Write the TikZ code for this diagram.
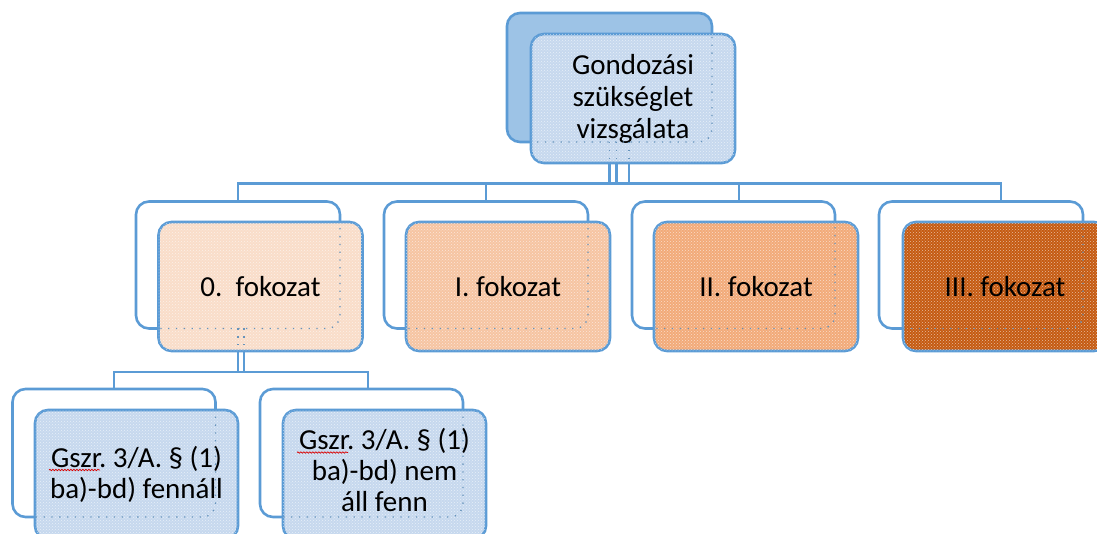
\documentclass[tikz,border=0pt]{standalone}
\usepackage{fontspec}
\setmainfont{Carlito}
\frenchspacing
\usetikzlibrary{patterns,decorations.pathmorphing,backgrounds,calc}
\definecolor{bc}{HTML}{5B9BD5}
\definecolor{topback}{HTML}{9DC3E6}
\definecolor{bluef}{HTML}{C6D8EE}
\definecolor{fzero}{HTML}{F9DDC9}
\definecolor{fone}{HTML}{F6C4A2}
\definecolor{ftwo}{HTML}{F2AA79}
\definecolor{fthree}{HTML}{C55A11}
\begin{document}
\begin{tikzpicture}[x=1pt,y=-1pt,
  boxbase/.style={rectangle, rounded corners=13pt, line width=2.6pt, draw=bc, inner sep=0pt, outer sep=0pt},
  backbox/.style={boxbase, fill=#1, minimum width=204pt, minimum height=127pt},
  frontbox/.style={boxbase, fill=#1, minimum width=204pt, minimum height=129pt,
    postaction={pattern=crosshatch dots, pattern color=white, fill opacity=0.6},
    align=center, text=black, font=\fontsize{29}{32}\selectfont},
  smallfont/.style={font=\fontsize{29}{31}\selectfont},
  conn/.style={draw=bc, line width=2.4pt},
  ghost/.style={draw=bc!70!gray, line width=1.3pt, dash pattern=on 1.3pt off 6.5pt},
  squig/.style={draw=red!85!black, line width=0.7pt, decorate, decoration={snake, amplitude=0.7pt, segment length=3pt}}
]
\useasboundingbox (0,0) rectangle (1097,534);
\clip (0,0) rectangle (1097,534);

% back boxes
\node[backbox=topback, minimum width=205pt, minimum height=129pt] (tb) at (609.5,77.5) {};
\node[backbox=white] (b0) at (238,265) {};
\node[backbox=white] (b1) at (486,265) {};
\node[backbox=white, minimum width=203pt] (b2) at (733.5,265) {};
\node[backbox=white] (b3) at (981,265) {};
\node[backbox=white, minimum width=203pt, minimum height=128pt] (c0) at (114,453) {};
\node[backbox=white, minimum width=203pt, minimum height=128pt] (c1) at (361.5,453) {};

% front boxes
\node[frontbox=bluef] (tf) at (633,98.5) {Gondozási\\szükséglet\\vizsgálata};
\node[frontbox=fzero] (f0) at (260.5,286.5) {0.\ \ fokozat};
\node[frontbox=fone] (f1) at (508,286.5) {I. fokozat};
\node[frontbox=ftwo] (f2) at (756,286.5) {II. fokozat};
\node[frontbox=fthree] (f3) at (1005,286.5) {III. fokozat};
\node[frontbox=bluef, smallfont, minimum width=203pt] (d0) at (136.5,474.5) {Gszr. 3/A. § (1)\\ba)-bd) fennáll};
\node[frontbox=bluef, smallfont, minimum width=203pt] (d1) at (384.5,474.5) {Gszr. 3/A. § (1)\\ba)-bd) nem\\áll fenn\strut};

% helper coordinates
\coordinate (bar) at (0,183.5);
\coordinate (barb) at (0,372);
\coordinate (t1) at ([xshift=7pt]tb.south);
\coordinate (t2) at ([xshift=19.5pt]tb.south);
\coordinate (b2c) at ([xshift=5.5pt]b2.north);
\coordinate (b3c) at ([xshift=20pt]b3.north);
\coordinate (u2) at ([xshift=6pt]b0.south);
\coordinate (c1c) at ([xshift=6.5pt]c1.north);

\def\myconns#1{%
  \draw[#1] (tb.south) -- (tb.south |- bar);
  \draw[#1] (t1) -- (t1 |- bar);
  \draw[#1] (t2) -- (t2 |- bar);
  \draw[#1] (b0.north) |- (b3c |- bar) -- (b3c);
  \draw[#1] (b1.north) -- (b1.north |- bar);
  \draw[#1] (b2c) -- (b2c |- bar);
  \draw[#1] (b0.south) -- (b0.south |- barb);
  \draw[#1] (u2) -- (u2 |- barb);
  \draw[#1] (c0.north) |- (c1c |- barb) -- (c1c);
}

\begin{scope}[on background layer]
  \myconns{conn}
\end{scope}

% dotted traces of hidden outlines inside the front boxes
\begin{scope}
  \clip[rounded corners=13pt] (tf.north west) rectangle (tf.south east)
    (f0.north west) rectangle (f0.south east)
    (f1.north west) rectangle (f1.south east)
    (f2.north west) rectangle (f2.south east)
    (f3.north west) rectangle (f3.south east)
    (d0.north west) rectangle (d0.south east)
    (d1.north west) rectangle (d1.south east);
  \draw[ghost, rounded corners=13pt] (tb.north west) rectangle (tb.south east);
  \draw[ghost, rounded corners=13pt] (b0.north west) rectangle (b0.south east);
  \draw[ghost, rounded corners=13pt] (b1.north west) rectangle (b1.south east);
  \draw[ghost, rounded corners=13pt] (b2.north west) rectangle (b2.south east);
  \draw[ghost, rounded corners=13pt] (b3.north west) rectangle (b3.south east);
  \draw[ghost, rounded corners=13pt] (c0.north west) rectangle (c0.south east);
  \draw[ghost, rounded corners=13pt] (c1.north west) rectangle (c1.south east);
  \myconns{ghost}
\end{scope}

% spell-check underlines
\draw[squig] ($(d0.center)+(-87.5,-4.5)$) -- ($(d0.center)+(-36.5,-4.5)$);
\draw[squig] ($(d1.center)+(-87.5,-22)$) -- ($(d1.center)+(-36.5,-22)$);
\end{tikzpicture}
\end{document}
